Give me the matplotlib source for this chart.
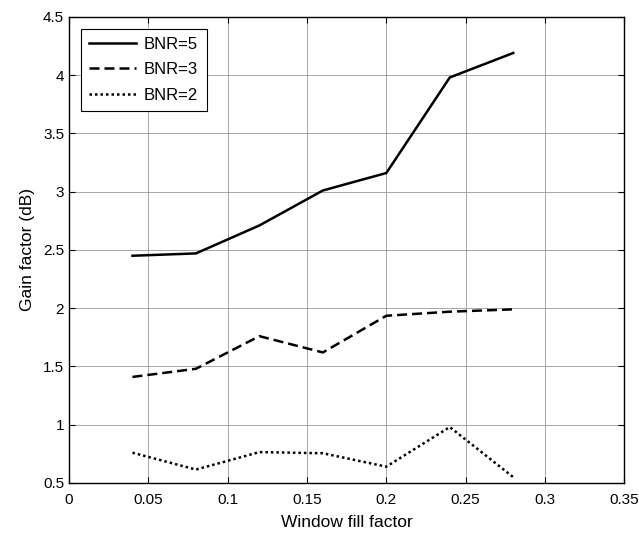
import numpy as np
import matplotlib.pyplot as plt

plt.rcParams['font.family'] = ['Liberation Sans', 'DejaVu Sans']

# window fill factor
x = [0.04, 0.08, 0.12, 0.16, 0.20, 0.24, 0.28]
bnr5 = [2.45, 2.47, 2.71, 3.01, 3.16, 3.98, 4.19]
bnr3 = [1.41, 1.48, 1.76, 1.62, 1.935, 1.97, 1.99]
bnr2 = [0.76, 0.615, 0.765, 0.755, 0.64, 0.98, 0.55]

xticks = [0, 0.05, 0.1, 0.15, 0.2, 0.25, 0.3, 0.35]
xticklabels = ['0', '0.05', '0.1', '0.15', '0.2', '0.25', '0.3', '0.35']
yticks = [0.5, 1, 1.5, 2, 2.5, 3, 3.5, 4, 4.5]
yticklabels = ['0.5', '1', '1.5', '2', '2.5', '3', '3.5', '4', '4.5']

fig = plt.figure(figsize=(6.39, 5.37), dpi=100)
ax = fig.add_axes([0.108, 0.1006, 0.869, 0.868])

ax.plot(x, bnr5, color='black', lw=1.8, ls='-', label='BNR=5')
ax.plot(x, bnr3, color='black', lw=1.8, ls=(0, (4, 2)), label='BNR=3')
ax.plot(x, bnr2, color='black', lw=1.8, ls=(0, (1, 1.2)), label='BNR=2')

ax.set_xlim(0, 0.35)
ax.set_ylim(0.5, 4.5)
ax.set_xticks(xticks)
ax.set_xticklabels(xticklabels)
ax.set_yticks(yticks)
ax.set_yticklabels(yticklabels)
ax.tick_params(direction='in', length=4, labelsize=11, top=True, right=True, width=0.8)
ax.tick_params(axis='x', pad=7.5)
ax.grid(True, color='0.6', lw=0.6)
for s in ax.spines.values():
    s.set_linewidth(1.0)

ax.set_xlabel('Window fill factor', fontsize=12.5, labelpad=5.5)
ax.set_ylabel('Gain factor (dB)', fontsize=12.5, labelpad=6)

leg = ax.legend(loc='upper left', fontsize=12, fancybox=False, edgecolor='black',
                framealpha=1, handlelength=2.8, handletextpad=0.5, labelspacing=0.62,
                borderaxespad=0.7, borderpad=0.5)
leg.get_frame().set_linewidth(0.8)

plt.savefig('out.png', dpi=100)
